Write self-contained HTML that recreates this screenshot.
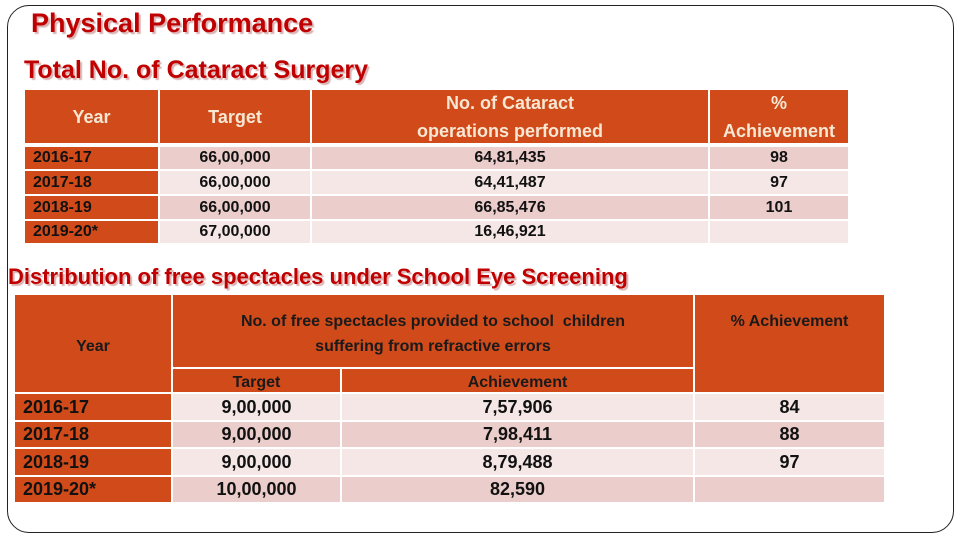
<!DOCTYPE html>
<html><head><meta charset="utf-8"><style>
body{margin:0;width:960px;height:540px;background:#fff;position:relative;overflow:hidden;font-family:"Liberation Sans",Arial,sans-serif}
.a{position:absolute;box-sizing:border-box}
.c{display:flex;align-items:center;justify-content:center;text-align:center}
.h{background:#D04A1A;color:#F7E7D3;font-size:18px;line-height:28px;font-weight:bold}
.h2{background:#D04A1A;color:#1a1a1a;font-size:16px;font-weight:bold;line-height:25px}
.y{background:#D04A1A;color:#1a1a1a;font-weight:bold;justify-content:flex-start;padding-left:8px}
.d{background:#EBCDCB}.l{background:#F5E7E6}
.t{font-weight:bold;color:#111;font-size:16px}
.b{font-weight:bold;color:#111;font-size:18px}
.ti{color:#C00000;font-weight:bold;text-shadow:2px 2px 1px #d9b3b3;white-space:nowrap}
</style></head><body>
<div class="a" style="left:7px;top:5px;width:947px;height:528px;border:1px solid #222;border-radius:22px"></div>
<div class="a ti" style="left:31px;top:8px;font-size:27px">Physical Performance</div>
<div class="a ti" style="left:24px;top:56px;font-size:25px">Total No. of Cataract Surgery</div>

<div>
<div class="a c h" style="left:25px;top:90px;width:133px;height:53px">Year</div>
<div class="a c h" style="left:160px;top:90px;width:150px;height:53px">Target</div>
<div class="a c h" style="left:312px;top:90px;width:396px;height:53px">No. of Cataract<br>operations performed</div>
<div class="a c h" style="left:710px;top:90px;width:138px;height:53px">%<br>Achievement</div>
<div class="a c y t" style="left:25px;top:147px;width:133px;height:22px">2016-17</div>
<div class="a c d t" style="left:160px;top:147px;width:150px;height:22px">66,00,000</div>
<div class="a c d t" style="left:312px;top:147px;width:396px;height:22px">64,81,435</div>
<div class="a c d t" style="left:710px;top:147px;width:138px;height:22px">98</div>
<div class="a c y t" style="left:25px;top:171px;width:133px;height:23px">2017-18</div>
<div class="a c l t" style="left:160px;top:171px;width:150px;height:23px">66,00,000</div>
<div class="a c l t" style="left:312px;top:171px;width:396px;height:23px">64,41,487</div>
<div class="a c l t" style="left:710px;top:171px;width:138px;height:23px">97</div>
<div class="a c y t" style="left:25px;top:196px;width:133px;height:23px">2018-19</div>
<div class="a c d t" style="left:160px;top:196px;width:150px;height:23px">66,00,000</div>
<div class="a c d t" style="left:312px;top:196px;width:396px;height:23px">66,85,476</div>
<div class="a c d t" style="left:710px;top:196px;width:138px;height:23px">101</div>
<div class="a c y t" style="left:25px;top:221px;width:133px;height:22px">2019-20*</div>
<div class="a c l t" style="left:160px;top:221px;width:150px;height:22px">67,00,000</div>
<div class="a c l t" style="left:312px;top:221px;width:396px;height:22px">16,46,921</div>
<div class="a c l t" style="left:710px;top:221px;width:138px;height:22px"></div>
</div>

<div class="a ti" style="left:8px;top:264px;font-size:22px">Distribution of free spectacles under School Eye Screening</div>

<div>
<div class="a c h2" style="left:15px;top:295px;width:156px;height:97px;padding-top:6px">Year</div>
<div class="a c h2" style="left:173px;top:295px;width:520px;height:72px;padding-top:6px">No. of free spectacles provided to school &nbsp;children<br>suffering from refractive errors</div>
<div class="a c h2" style="left:695px;top:295px;width:189px;height:97px;align-items:flex-start;padding-top:14px">% Achievement</div>
<div class="a c h2" style="left:173px;top:369px;width:167px;height:23px;padding-top:3px">Target</div>
<div class="a c h2" style="left:342px;top:369px;width:351px;height:23px;padding-top:3px">Achievement</div>
<div class="a c y b" style="left:15px;top:394px;width:156px;height:26px">2016-17</div>
<div class="a c l b" style="left:173px;top:394px;width:167px;height:26px">9,00,000</div>
<div class="a c l b" style="left:342px;top:394px;width:351px;height:26px">7,57,906</div>
<div class="a c l b" style="left:695px;top:394px;width:189px;height:26px">84</div>
<div class="a c y b" style="left:15px;top:422px;width:156px;height:25px">2017-18</div>
<div class="a c d b" style="left:173px;top:422px;width:167px;height:25px">9,00,000</div>
<div class="a c d b" style="left:342px;top:422px;width:351px;height:25px">7,98,411</div>
<div class="a c d b" style="left:695px;top:422px;width:189px;height:25px">88</div>
<div class="a c y b" style="left:15px;top:449px;width:156px;height:26px">2018-19</div>
<div class="a c l b" style="left:173px;top:449px;width:167px;height:26px">9,00,000</div>
<div class="a c l b" style="left:342px;top:449px;width:351px;height:26px">8,79,488</div>
<div class="a c l b" style="left:695px;top:449px;width:189px;height:26px">97</div>
<div class="a c y b" style="left:15px;top:477px;width:156px;height:25px">2019-20*</div>
<div class="a c d b" style="left:173px;top:477px;width:167px;height:25px">10,00,000</div>
<div class="a c d b" style="left:342px;top:477px;width:351px;height:25px">82,590</div>
<div class="a c d b" style="left:695px;top:477px;width:189px;height:25px"></div>
</div>
</body></html>
